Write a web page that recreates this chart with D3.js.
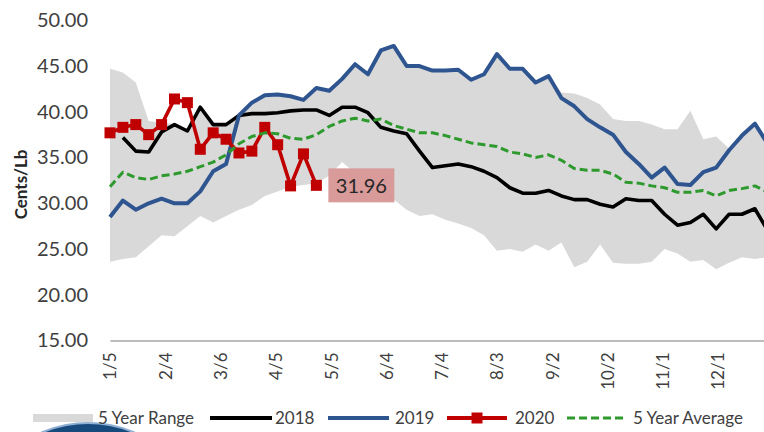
<!DOCTYPE html>
<html>
<head>
<meta charset="utf-8">
<script src="https://cdn.jsdelivr.net/npm/d3@7/dist/d3.min.js"></script>
<style>
  html, body { margin: 0; padding: 0; background: #fff; }
  svg { display: block; font-family: Lato, "Open Sans", sans-serif; }
</style>
</head>
<body>
<script>
// Weekly categories (month/day)
const weekLabels = [
  "1/5","1/12","1/19","1/26","2/2","2/9","2/16","2/23","3/2","3/9","3/16","3/23","3/30",
  "4/6","4/13","4/20","4/27","5/4","5/11","5/18","5/25","6/1","6/8","6/15","6/22","6/29",
  "7/6","7/13","7/20","7/27","8/3","8/10","8/17","8/24","8/31","9/7","9/14","9/21","9/28",
  "10/5","10/12","10/19","10/26","11/2","11/9","11/16","11/23","11/30","12/7","12/14","12/21","12/28"
];
// Axis tick labels (every 30 days)
const tickLabels = ["1/5","2/4","3/6","4/5","5/5","6/4","7/4","8/3","9/2","10/2","11/1","12/1"];
const yTicks = [15, 20, 25, 30, 35, 40, 45, 50];

// 5 year range (low / high), cents per lb
const rangeLow = [
  23.6,23.9,24.1,25.3,26.5,26.4,27.5,28.6,27.9,28.6,29.3,29.8,30.8,
  31.3,31.8,32.0,32.2,33.0,34.5,33.3,32.5,31.5,30.4,29.3,28.6,28.8,
  28.2,27.8,27.3,26.5,24.8,25.0,24.7,25.5,24.8,25.7,23.0,23.6,25.5,
  23.5,23.4,23.4,23.6,25.0,24.5,23.6,23.8,22.8,23.5,24.1,23.9,24.1
];
const rangeHigh = [
  44.7,44.3,43.2,39.0,38.8,38.7,38.0,40.6,38.7,38.7,39.8,41.0,41.8,
  41.9,41.7,41.3,42.6,42.3,43.6,45.2,44.1,46.7,47.2,45.0,45.0,44.5,
  44.5,44.6,43.5,44.1,46.3,44.7,44.7,43.2,43.9,42.1,42.0,41.5,40.8,
  39.2,39.0,39.0,38.6,38.1,38.1,40.1,37.0,37.3,36.0,37.4,38.7,36.5
];
const series2018 = [
  null,37.2,35.7,35.6,37.8,38.6,37.9,40.5,38.6,38.6,39.6,39.8,39.8,
  39.9,40.1,40.2,40.2,39.6,40.5,40.5,39.9,38.3,37.9,37.6,35.7,33.9,
  34.1,34.3,34.0,33.5,32.8,31.7,31.1,31.1,31.4,30.8,30.4,30.4,29.9,
  29.6,30.5,30.3,30.3,28.8,27.6,27.9,28.8,27.2,28.8,28.8,29.4,27.0
];
const series2019 = [
  28.5,30.3,29.3,30.0,30.5,30.0,30.0,31.3,33.5,34.3,39.6,41.0,41.8,
  41.9,41.7,41.3,42.6,42.3,43.6,45.2,44.1,46.7,47.2,45.0,45.0,44.5,
  44.5,44.6,43.5,44.1,46.3,44.7,44.7,43.2,43.9,41.5,40.6,39.2,38.3,
  37.5,35.6,34.3,32.8,33.9,32.1,32.0,33.4,33.9,35.8,37.4,38.7,36.5
];
const series2020 = [
  37.7,38.3,38.6,37.5,38.6,41.4,41.0,35.9,37.7,37.0,35.5,35.7,38.3,
  36.4,31.9,35.4,31.96
];
const avg5 = [
  31.8,33.4,32.8,32.6,33.0,33.2,33.5,34.0,34.5,35.3,36.5,37.3,37.7,
  37.6,37.1,37.0,37.5,38.4,39.0,39.3,39.0,39.2,38.5,38.1,37.7,37.7,
  37.4,37.0,36.6,36.4,36.2,35.6,35.4,35.0,35.3,34.7,33.8,33.6,33.6,
  33.2,32.3,32.2,31.9,31.7,31.2,31.2,31.4,30.8,31.4,31.6,31.9,31.2
];

const W = 764, H = 432;
const parseMD = d3.timeParse("%m/%d/%Y");
const toDate = s => parseMD(s + "/2019");
const dates = weekLabels.map(toDate);
const tickDates = tickLabels.map(toDate);

const svg = d3.select("body").append("svg").attr("width", W).attr("height", H);

// Logo fragment in the lower-left corner
svg.append("circle").attr("cx", 88).attr("cy", 540).attr("r", 117)
  .attr("fill", "#174a7c").attr("stroke", "#8fb0d3").attr("stroke-width", 2);

const x = d3.scaleTime()
  .domain([toDate("1/5"), toDate("12/31")])
  .range([110, 773.3]);
const y = d3.scaleLinear().domain([15, 50]).range([340.5, 20.3]);

// 5 year range band
const band = weekLabels.map((w, i) => ({ d: dates[i], lo: rangeLow[i], hi: rangeHigh[i] }));
svg.append("path").datum(band)
  .attr("fill", "#d9d9d9")
  .attr("d", d3.area().x(p => x(p.d)).y0(p => y(p.lo)).y1(p => y(p.hi)));

// Axes
const xAxis = svg.append("g").attr("transform", `translate(0,${y(15)})`)
  .call(d3.axisBottom(x).tickValues(tickDates).tickFormat(d3.timeFormat("%-m/%-d")).tickSize(0).tickSizeOuter(0));
xAxis.select(".domain").attr("stroke", "#a6a6a6").attr("stroke-width", 1.6);
xAxis.selectAll("text")
  .attr("x", -12).attr("y", 0).attr("dy", "0.35em")
  .attr("transform", "rotate(-90)")
  .style("text-anchor", "end")
  .style("font-size", "17px").style("font-family", "Lato, sans-serif")
  .attr("fill", "#404040");

const yAxis = svg.append("g").attr("transform", "translate(110,0)")
  .call(d3.axisLeft(y).tickValues(yTicks).tickFormat(d3.format(".2f")).tickSize(0).tickPadding(22));
yAxis.select(".domain").remove();
yAxis.selectAll("text").style("font-size", "20px").style("font-family", "Lato, sans-serif").attr("fill", "#404040");

svg.append("text")
  .attr("transform", `translate(27,${(y(30) + y(35)) / 2 + 4}) rotate(-90)`)
  .attr("text-anchor", "middle")
  .style("font-size", "17px").style("font-weight", "bold").attr("fill", "#262626")
  .text("Cents/Lb");

// Series lines
const line = d3.line().defined(v => v != null).x((v, i) => x(dates[i])).y(v => y(v));
function drawLine(values, color, width, dash) {
  const p = svg.append("path").datum(values)
    .attr("fill", "none").attr("stroke", color).attr("stroke-width", width)
    .attr("stroke-linejoin", "round")
    .attr("d", line);
  if (dash) p.attr("stroke-dasharray", dash);
  return p;
}
drawLine(series2018, "#000000", 3.6);
drawLine(series2019, "#2f5590", 4);
drawLine(series2020, "#c00000", 3.6);
svg.selectAll("rect.m2020").data(series2020).enter().append("rect")
  .attr("class", "m2020")
  .attr("x", (v, i) => x(dates[i]) - 5.5).attr("y", v => y(v) - 5.5)
  .attr("width", 11).attr("height", 11).attr("fill", "#c00000");
drawLine(avg5, "#2e9a2e", 3, "8,4");

// Value label on the latest 2020 point
const lastI = series2020.length - 1;
const lastV = series2020[lastI];
const lx = x(dates[lastI]) + 12, ly = y(lastV);
svg.append("rect").attr("x", lx).attr("y", ly - 17).attr("width", 66).attr("height", 34).attr("fill", "#d99a9a");
svg.append("text").attr("x", lx + 33).attr("y", ly).attr("dy", "0.36em")
  .attr("text-anchor", "middle").style("font-size", "20px").attr("fill", "#262626")
  .text(d3.format(".2f")(lastV));

// Legend
const ly0 = 418;
const lg = svg.append("g").style("font-size", "17px").attr("fill", "#404040");
lg.append("rect").attr("x", 33).attr("y", ly0 - 4).attr("width", 60).attr("height", 8).attr("fill", "#d9d9d9");
lg.append("text").attr("x", 98).attr("y", ly0).attr("dy", "0.35em").text("5 Year Range");
lg.append("line").attr("x1", 210).attr("x2", 272).attr("y1", ly0).attr("y2", ly0).attr("stroke", "#000").attr("stroke-width", 4);
lg.append("text").attr("x", 275).attr("y", ly0).attr("dy", "0.35em").text("2018");
lg.append("line").attr("x1", 328).attr("x2", 389).attr("y1", ly0).attr("y2", ly0).attr("stroke", "#2f5590").attr("stroke-width", 4);
lg.append("text").attr("x", 395).attr("y", ly0).attr("dy", "0.35em").text("2019");
lg.append("line").attr("x1", 447).attr("x2", 507).attr("y1", ly0).attr("y2", ly0).attr("stroke", "#c00000").attr("stroke-width", 4);
lg.append("rect").attr("x", 471.5).attr("y", ly0 - 5.5).attr("width", 11).attr("height", 11).attr("fill", "#c00000");
lg.append("text").attr("x", 515).attr("y", ly0).attr("dy", "0.35em").text("2020");
lg.append("line").attr("x1", 567).attr("x2", 626).attr("y1", ly0).attr("y2", ly0).attr("stroke", "#2e9a2e").attr("stroke-width", 3).attr("stroke-dasharray", "8,4");
lg.append("text").attr("x", 633).attr("y", ly0).attr("dy", "0.35em").text("5 Year Average");
</script>
</body>
</html>
